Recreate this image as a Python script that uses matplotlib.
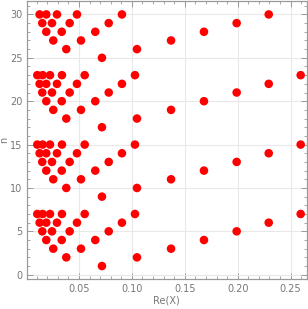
import matplotlib
matplotlib.use("Agg")
import matplotlib.pyplot as plt
from matplotlib.ticker import MultipleLocator

# Re(X) values read per row; the same pattern repeats every 8 rows of n
re_row1 = [0.0717]
re_row2 = [0.0380, 0.1048]
re_row3 = [0.0257, 0.0519, 0.1370]
re_row4 = [0.0191, 0.0337, 0.0654, 0.1681]
re_row5 = [0.0153, 0.0245, 0.0412, 0.0781, 0.1990]
re_row6 = [0.0128, 0.0191, 0.0292, 0.0481, 0.0906, 0.2293]
re_row7 = [0.0106, 0.0157, 0.0226, 0.0339, 0.0554, 0.1029, 0.2595]
rows = [re_row1, re_row2, re_row3, re_row4, re_row5, re_row6, re_row7]
block_offsets = [0, 8, 16, 24]
n_max = 30

xs = []
ys = []
for off in block_offsets:
    for i, row in enumerate(rows):
        n = off + i + 1
        if n > n_max:
            continue
        for v in row:
            xs.append(v)
            ys.append(n)

gray = "#9a9a9a"
fig = plt.figure(figsize=(3.08, 3.09), dpi=100)
ax = fig.add_axes([0.0867, 0.0955, 0.9091, 0.9013])

ax.grid(True, which="major", color="#e8e8e8", linewidth=0.8)
ax.set_axisbelow(True)
ax.scatter(xs, ys, s=38, color="#ff0000", edgecolors="none", zorder=3)

ax.set_xlim(0.0006, 0.2652)
ax.set_ylim(-0.55, 31.55)
ax.xaxis.set_major_locator(MultipleLocator(0.05))
ax.xaxis.set_minor_locator(MultipleLocator(0.01))
ax.yaxis.set_major_locator(MultipleLocator(5))
ax.yaxis.set_minor_locator(MultipleLocator(1))
ax.set_xticks([0.05, 0.10, 0.15, 0.20, 0.25])
ax.set_xticklabels(["0.05", "0.10", "0.15", "0.20", "0.25"])

for s in ax.spines.values():
    s.set_color(gray)
    s.set_linewidth(0.9)
ax.tick_params(which="both", direction="in", top=True, right=True,
               color=gray, labelcolor="#777777", labelsize=7)
ax.tick_params(which="major", length=4, width=0.7, pad=3)
ax.tick_params(which="minor", length=2.2, width=0.6)

ax.set_xlabel("Re(X)", fontsize=7, color="#777777", labelpad=1)
ax.set_ylabel("n", fontsize=7, color="#777777", labelpad=1)

fig.savefig("out.png", dpi=100)
